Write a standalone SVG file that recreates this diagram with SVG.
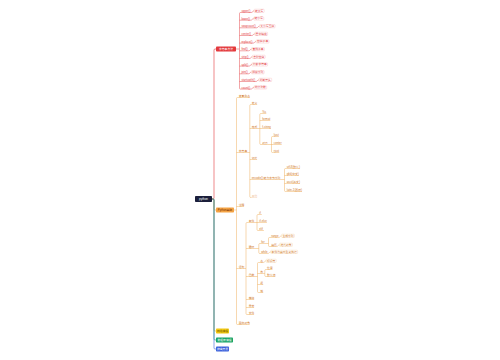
<svg xmlns="http://www.w3.org/2000/svg" width="500" height="360" viewBox="0 0 500 360">
<style>
text{font-family:"Liberation Sans","Noto Sans CJK SC",sans-serif;font-size:2.8px}
.tr{fill:#e3393c}
.to{fill:#cf7420}
.tf{fill:#f2c9a6}
.tw{fill:#fff}
.lr{stroke:#e3393c;stroke-width:0.45;fill:none}
.lo{stroke:#eda84f;stroke-width:0.45;fill:none}
.br{fill:#fff;stroke:#f4a3a3;stroke-width:0.3}
.bo{fill:#fff;stroke:#f3c68e;stroke-width:0.3}
.ur{stroke:#e3393c;stroke-width:0.45}
.uo{stroke:#eda84f;stroke-width:0.45}
.uf{stroke:#f6d7bb;stroke-width:0.45}
.mid{text-anchor:middle}
</style>
<rect width="500" height="360" fill="#fff"/>
<g id="connectors">
<path d="M212,199 H213 Q214,199 214,198 V50 Q214,49 215,49 H216" fill="none" stroke="#e3393c" stroke-width="0.6"/>
<path d="M212,199 H213 Q214,199 214,200 V209 Q214,210 215,210 H216" fill="none" stroke="#f0a040" stroke-width="0.6"/>
<path d="M212,199 H213 Q214,199 214,200 V330 Q214,331 215,331 H216" fill="none" stroke="#f2c811" stroke-width="0.6"/>
<path d="M212,199 H213 Q214,199 214,200 V339 Q214,340 215,340 H216" fill="none" stroke="#16a468" stroke-width="0.6"/>
<path d="M212,199 H213 Q214,199 214,200 V348 Q214,349 215,349 H216" fill="none" stroke="#3c62dc" stroke-width="0.6"/>
<path class="lr" d="M236,49 H239.5"/>
<path class="lr" d="M241,12.5 H240.5 Q239.5,12.5 239.5,13.5 V88.1 Q239.5,89.1 240.5,89.1 H241 M239.5,20.2H241 M239.5,27.8H241 M239.5,35.5H241 M239.5,43.1H241 M239.5,50.8H241 M239.5,58.5H241 M239.5,66.1H241 M239.5,73.8H241 M239.5,81.5H241"/>
<path class="lr" d="M251.2,12.5 C252.7,12.5 252.7,10.85 254.2,10.85 M250.75,20.2 C252.25,20.2 252.25,18.55 253.75,18.55 M256.5,27.8 C258,27.8 258,26.15 259.5,26.15 M251.8,35.5 C253.3,35.5 253.3,33.85 254.8,33.85 M253.2,43.1 C254.7,43.1 254.7,41.45 256.2,41.45 M248.6,50.8 C250.1,50.8 250.1,49.15 251.6,49.15 M249.4,58.5 C250.9,58.5 250.9,56.85 252.4,56.85 M249,66.1 C250.5,66.1 250.5,64.45 252,64.45 M248.4,73.8 C249.9,73.8 249.9,72.15 251.4,72.15 M255.9,81.5 C257.4,81.5 257.4,79.85 258.9,79.85 M250.9,89.1 C252.4,89.1 252.4,87.45 253.9,87.45"/>
<path class="lo" d="M234,210 H236.5 M238.5,97.5 H237.5 Q236.5,97.5 236.5,98.5 V323.5 Q236.5,324.5 237.5,324.5 H238.5 M236.5,152.5H238.5 M236.5,206.5H238.5 M236.5,268.5H238.5"/>
<path class="lo" d="M247.4,152.5 H249.8 M251.5,104.5 H250.8 Q249.8,104.5 249.8,105.5 V196.5 Q249.8,197.5 250.8,197.5 H251.5 M249.8,128.5H251.5 M249.8,159.5H251.5 M249.8,179.5H251.5"/>
<path class="lo" d="M257.1,128.5 H259.8 M262,113.5 H260.8 Q259.8,113.5 259.8,114.5 V143.5 Q259.8,144.5 260.8,144.5 H262 M259.8,120.5H262 M259.8,128.5H262"/>
<path class="lo" d="M267.6,144.5 H271.5 M273.5,136.5 H272.5 Q271.5,136.5 271.5,137.5 V151.5 Q271.5,152.5 272.5,152.5 H273.5 M271.5,144.5H273.5"/>
<path class="lo" d="M280.6,179.5 H284.5 M286.5,168.5 H285.5 Q284.5,168.5 284.5,169.5 V190.5 Q284.5,191.5 285.5,191.5 H286.5 M284.5,175.5H286.5 M284.5,183.5H286.5"/>
<path class="lo" d="M244.1,268.5 H246 M248.5,222.5 H247 Q246,222.5 246,223.5 V313.5 Q246,314.5 247,314.5 H248.5 M246,248.5H248.5 M246,276.5H248.5 M246,299.5H248.5 M246,307.5H248.5"/>
<path class="lo" d="M254.1,222.5 H257 M259,214.5 H258 Q257,214.5 257,215.5 V229.5 Q257,230.5 258,230.5 H259 M257,222.5H259"/>
<path class="lo" d="M254.1,248.5 H258.8 M261,243.5 H259.8 Q258.8,243.5 258.8,244.5 V252.5 Q258.8,253.5 259.8,253.5 H261"/>
<path class="lo" d="M264.3,243.5 H268.5 M271,237.5 H269.5 Q268.5,237.5 268.5,238.5 V245.5 Q268.5,246.5 269.5,246.5 H271"/>
<path class="lo" d="M278.6,237.5 C280.1,237.5 280.1,235.85 281.6,235.85 M276.6,246.5 C278.1,246.5 278.1,244.85 279.6,244.85 M267.8,253.5 C269.3,253.5 269.3,251.85 270.8,251.85"/>
<path class="lo" d="M254.1,276.5 H257.5 M260,262.5 H258.5 Q257.5,262.5 257.5,263.5 V291.5 Q257.5,292.5 258.5,292.5 H260 M257.5,273.5H260 M257.5,284.5H260"/>
<path class="lo" d="M263.2,262.5 C264.7,262.5 264.7,260.85 266.2,260.85 M263.2,273.5 H264.8 M266.8,269.5 H265.8 Q264.8,269.5 264.8,270.5 V275.5 Q264.8,276.5 265.8,276.5 H266.8"/>
</g>
<g id="root"><rect x="195" y="196" width="17" height="6" rx="0.8" fill="#1b1f3b"/><text class="tw mid" x="203.5" y="200.1" style="font-size:3px">python</text></g>
<g id="n-red"><rect x="216" y="46.5" width="20" height="5" rx="0.8" fill="#e3393c"/><text class="tw mid" x="226" y="50.05">字符串方法</text></g>
<g id="n-orange"><rect x="216" y="207.5" width="18" height="5" rx="0.8" fill="#f5a445"/><text class="mid" x="225" y="211.05" fill="#7a3000">Python基础</text></g>
<g id="n-yellow"><rect x="216" y="328.5" width="13" height="5" rx="0.8" fill="#f2c811"/><text class="mid" x="222.5" y="332.05" fill="#6a5200">网络编程</text></g>
<g id="n-green"><rect x="216" y="337.5" width="17" height="5" rx="0.8" fill="#16a468"/><text class="tw mid" x="224.5" y="341.05">数据库编程</text></g>
<g id="n-blue"><rect x="216" y="346.5" width="13" height="5" rx="0.8" fill="#3c62dc"/><text class="tw mid" x="222.5" y="350.05">爬虫开发</text></g>
<g id="r1"><text class="tr" x="241.4" y="11.9">upper()</text><line class="ur" x1="241" y1="12.5" x2="251.2" y2="12.5"/></g>
<g id="r1b"><rect class="br" x="254.2" y="9.2" width="10" height="3.3" rx="0.6"/><text class="tr" x="255" y="11.75">转大写</text></g>
<g id="r2"><text class="tr" x="241.4" y="19.6">lower()</text><line class="ur" x1="241" y1="20.2" x2="250.75" y2="20.2"/></g>
<g id="r2b"><rect class="br" x="253.75" y="16.9" width="10" height="3.3" rx="0.6"/><text class="tr" x="254.55" y="19.45">转小写</text></g>
<g id="r3"><text class="tr" x="241.4" y="27.2">swapcase()</text><line class="ur" x1="241" y1="27.8" x2="256.5" y2="27.8"/></g>
<g id="r3b"><rect class="br" x="259.5" y="24.5" width="15.6" height="3.3" rx="0.6"/><text class="tr" x="260.3" y="27.05">大小写互换</text></g>
<g id="r4"><text class="tr" x="241.4" y="34.9">center()</text><line class="ur" x1="241" y1="35.5" x2="251.8" y2="35.5"/></g>
<g id="r4b"><rect class="br" x="254.8" y="32.2" width="12.8" height="3.3" rx="0.6"/><text class="tr" x="255.6" y="34.75">居中填充</text></g>
<g id="r5"><text class="tr" x="241.4" y="42.5">replace()</text><line class="ur" x1="241" y1="43.1" x2="253.2" y2="43.1"/></g>
<g id="r5b"><rect class="br" x="256.2" y="39.8" width="12.8" height="3.3" rx="0.6"/><text class="tr" x="257" y="42.35">替换子串</text></g>
<g id="r6"><text class="tr" x="241.4" y="50.2">find()</text><line class="ur" x1="241" y1="50.8" x2="248.6" y2="50.8"/></g>
<g id="r6b"><rect class="br" x="251.6" y="47.5" width="12.8" height="3.3" rx="0.6"/><text class="tr" x="252.4" y="50.05">查找子串</text></g>
<g id="r7"><text class="tr" x="241.4" y="57.9">strip()</text><line class="ur" x1="241" y1="58.5" x2="249.4" y2="58.5"/></g>
<g id="r7b"><rect class="br" x="252.4" y="55.2" width="12.8" height="3.3" rx="0.6"/><text class="tr" x="253.2" y="57.75">去除空白</text></g>
<g id="r8"><text class="tr" x="241.4" y="65.5">split()</text><line class="ur" x1="241" y1="66.1" x2="249" y2="66.1"/></g>
<g id="r8b"><rect class="br" x="252" y="62.8" width="15.6" height="3.3" rx="0.6"/><text class="tr" x="252.8" y="65.35">分割字符串</text></g>
<g id="r9"><text class="tr" x="241.4" y="73.2">join()</text><line class="ur" x1="241" y1="73.8" x2="248.4" y2="73.8"/></g>
<g id="r9b"><rect class="br" x="251.4" y="70.5" width="12.8" height="3.3" rx="0.6"/><text class="tr" x="252.2" y="73.05">拼接序列</text></g>
<g id="r10"><text class="tr" x="241.4" y="80.9">startswith()</text><line class="ur" x1="241" y1="81.5" x2="255.9" y2="81.5"/></g>
<g id="r10b"><rect class="br" x="258.9" y="78.2" width="12.8" height="3.3" rx="0.6"/><text class="tr" x="259.7" y="80.75">判断开头</text></g>
<g id="r11"><text class="tr" x="241.4" y="88.5">count()</text><line class="ur" x1="241" y1="89.1" x2="250.9" y2="89.1"/></g>
<g id="r11b"><rect class="br" x="253.9" y="85.8" width="12.8" height="3.3" rx="0.6"/><text class="tr" x="254.7" y="88.35">统计次数</text></g>
<g id="o-a"><text class="to" x="238.8" y="96.9">变量命名</text><line class="uo" x1="238.5" y1="97.5" x2="249.7" y2="97.5"/></g>
<g id="o-b"><text class="to" x="238.8" y="151.9">字符串</text><line class="uo" x1="238.5" y1="152.5" x2="247.4" y2="152.5"/></g>
<g id="o-b1"><text class="to" x="251.8" y="103.9">定义</text><line class="uo" x1="251.5" y1="104.5" x2="257.1" y2="104.5"/></g>
<g id="o-b2"><text class="to" x="251.8" y="127.9">格式</text><line class="uo" x1="251.5" y1="128.5" x2="257.1" y2="128.5"/></g>
<g id="o-b2a"><text class="to" x="262.3" y="112.9">%s</text><line class="uo" x1="262" y1="113.5" x2="266.3" y2="113.5"/></g>
<g id="o-b2b"><text class="to" x="262.3" y="119.9">format</text><line class="uo" x1="262" y1="120.5" x2="270.3" y2="120.5"/></g>
<g id="o-b2c"><text class="to" x="262.3" y="127.9">f-string</text><line class="uo" x1="262" y1="128.5" x2="270.9" y2="128.5"/></g>
<g id="o-b2d"><text class="to" x="262.3" y="143.9">对齐</text><line class="uo" x1="262" y1="144.5" x2="267.6" y2="144.5"/></g>
<g id="o-b2d1"><text class="to" x="273.8" y="135.9">ljust</text><line class="uo" x1="273.5" y1="136.5" x2="278.9" y2="136.5"/></g>
<g id="o-b2d2"><text class="to" x="273.8" y="143.9">center</text><line class="uo" x1="273.5" y1="144.5" x2="281.7" y2="144.5"/></g>
<g id="o-b2d3"><text class="to" x="273.8" y="151.9">rjust</text><line class="uo" x1="273.5" y1="152.5" x2="279.2" y2="152.5"/></g>
<g id="o-b3"><text class="to" x="251.8" y="158.9">切片</text><line class="uo" x1="251.5" y1="159.5" x2="257.1" y2="159.5"/></g>
<g id="o-b4"><text class="to" x="251.8" y="178.9">encode() 转为字节序列</text><line class="uo" x1="251.5" y1="179.5" x2="280.6" y2="179.5"/></g>
<g id="o-b4a"><text class="to" x="286.8" y="167.9">utf-8(默认)</text><line class="uo" x1="286.5" y1="168.5" x2="300" y2="168.5"/></g>
<g id="o-b4b"><text class="to" x="286.8" y="174.9">gbk(中文)</text><line class="uo" x1="286.5" y1="175.5" x2="298.9" y2="175.5"/></g>
<g id="o-b4c"><text class="to" x="286.8" y="182.9">ascii(英文)</text><line class="uo" x1="286.5" y1="183.5" x2="300" y2="183.5"/></g>
<g id="o-b4d"><text class="to" x="286.8" y="190.9">latin-1(西欧)</text><line class="uo" x1="286.5" y1="191.5" x2="302" y2="191.5"/></g>
<g id="o-b5"><text class="tf" x="251.8" y="196.9">其他</text><line class="uf" x1="251.5" y1="197.5" x2="257.1" y2="197.5"/></g>
<g id="o-c"><text class="to" x="238.8" y="205.9">注释</text><line class="uo" x1="238.5" y1="206.5" x2="244.1" y2="206.5"/></g>
<g id="o-d"><text class="to" x="238.8" y="267.9">语句</text><line class="uo" x1="238.5" y1="268.5" x2="244.1" y2="268.5"/></g>
<g id="o-d1"><text class="to" x="248.8" y="221.9">条件</text><line class="uo" x1="248.5" y1="222.5" x2="254.1" y2="222.5"/></g>
<g id="o-d1a"><text class="to" x="259.3" y="213.9">if</text><line class="uo" x1="259" y1="214.5" x2="261.8" y2="214.5"/></g>
<g id="o-d1b"><text class="to" x="259.3" y="221.9">if-else</text><line class="uo" x1="259" y1="222.5" x2="266.9" y2="222.5"/></g>
<g id="o-d1c"><text class="to" x="259.3" y="229.9">elif</text><line class="uo" x1="259" y1="230.5" x2="263.9" y2="230.5"/></g>
<g id="o-d2"><text class="to" x="248.8" y="247.9">循环</text><line class="uo" x1="248.5" y1="248.5" x2="254.1" y2="248.5"/></g>
<g id="o-d2a"><text class="to" x="261.3" y="242.9">for</text><line class="uo" x1="261" y1="243.5" x2="264.3" y2="243.5"/></g>
<g id="o-d2a1"><text class="to" x="271.3" y="236.9">range</text><line class="uo" x1="271" y1="237.5" x2="278.6" y2="237.5"/></g>
<g id="o-d2a1b"><rect class="bo" x="281.6" y="234.2" width="12.8" height="3.3" rx="0.6"/><text class="to" x="282.4" y="236.75">生成序列</text></g>
<g id="o-d2a2"><text class="to" x="271.3" y="245.9">遍历</text><line class="uo" x1="271" y1="246.5" x2="276.6" y2="246.5"/></g>
<g id="o-d2a2b"><rect class="bo" x="279.6" y="243.2" width="12.8" height="3.3" rx="0.6"/><text class="to" x="280.4" y="245.75">迭代对象</text></g>
<g id="o-d2b"><text class="to" x="261.3" y="252.9">while</text><line class="uo" x1="261" y1="253.5" x2="267.8" y2="253.5"/></g>
<g id="o-d2bb"><rect class="bo" x="270.8" y="250.2" width="26.8" height="3.3" rx="0.6"/><text class="to" x="271.6" y="252.75">条件为真时重复执行</text></g>
<g id="o-d3"><text class="to" x="248.8" y="275.9">函数</text><line class="uo" x1="248.5" y1="276.5" x2="254.1" y2="276.5"/></g>
<g id="o-d3a"><text class="to" x="260.2" y="261.9">名</text><line class="uo" x1="260" y1="262.5" x2="263.2" y2="262.5"/></g>
<g id="o-d3ab"><rect class="bo" x="266.2" y="259.2" width="10" height="3.3" rx="0.6"/><text class="to" x="267" y="261.75">标识符</text></g>
<g id="o-d3b"><text class="to" x="260.2" y="272.9">参</text><line class="uo" x1="260" y1="273.5" x2="263.2" y2="273.5"/></g>
<g id="o-d3b1"><text class="to" x="267.1" y="268.9">位置</text><line class="uo" x1="266.8" y1="269.5" x2="272.4" y2="269.5"/></g>
<g id="o-d3b2"><text class="to" x="267.1" y="275.9">默认值</text><line class="uo" x1="266.8" y1="276.5" x2="275.2" y2="276.5"/></g>
<g id="o-d3c"><text class="to" x="260.2" y="283.9">返</text><line class="uo" x1="260" y1="284.5" x2="263.2" y2="284.5"/></g>
<g id="o-d3d"><text class="to" x="260.2" y="291.9">域</text><line class="uo" x1="260" y1="292.5" x2="263.2" y2="292.5"/></g>
<g id="o-d4"><text class="to" x="248.8" y="298.9">模块</text><line class="uo" x1="248.5" y1="299.5" x2="254.1" y2="299.5"/></g>
<g id="o-d5"><text class="to" x="248.8" y="306.9">异常</text><line class="uo" x1="248.5" y1="307.5" x2="254.1" y2="307.5"/></g>
<g id="o-d6"><text class="to" x="248.8" y="313.9">文件</text><line class="uo" x1="248.5" y1="314.5" x2="254.1" y2="314.5"/></g>
<g id="o-e"><text class="to" x="238.8" y="323.9">面向对象</text><line class="uo" x1="238.5" y1="324.5" x2="249.7" y2="324.5"/></g>
</svg>
